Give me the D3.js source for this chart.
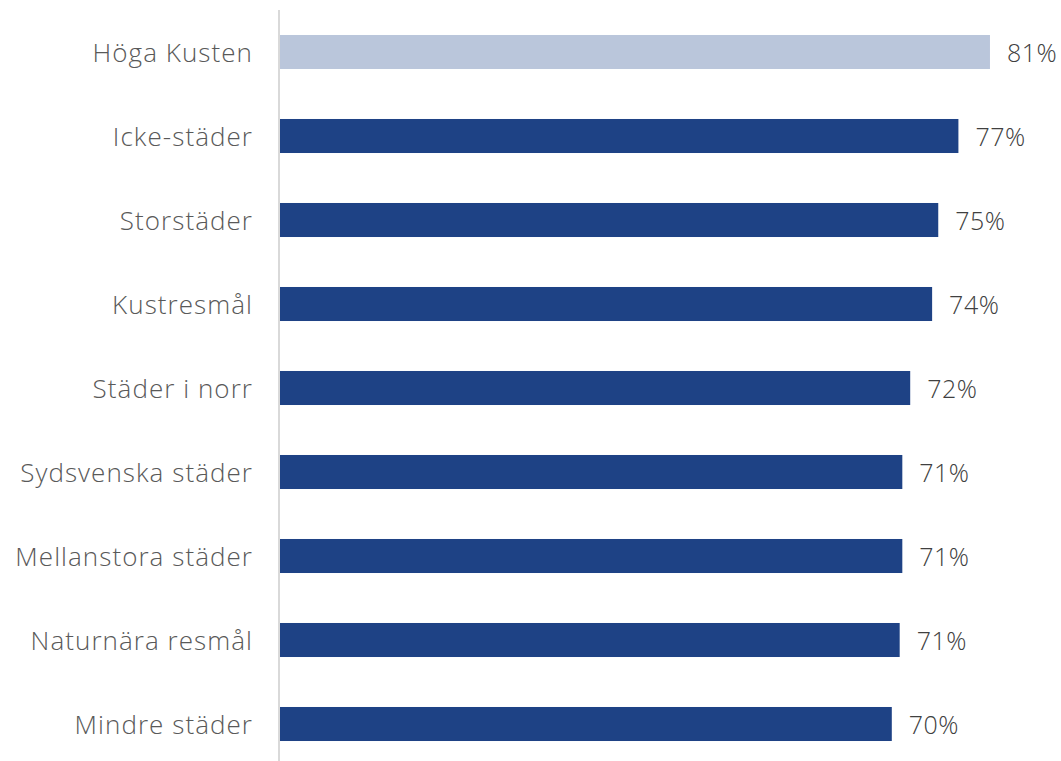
<!DOCTYPE html>
<html><head><meta charset="utf-8">
<script src="https://cdn.jsdelivr.net/npm/d3@7"></script>
<style>body{margin:0;background:#fff;} svg{display:block;}</style>
</head><body>
<script>
const categories = ["Höga Kusten","Icke-städer","Storstäder","Kustresmål","Städer i norr","Sydsvenska städer","Mellanstora städer","Naturnära resmål","Mindre städer"];
const values = [81.0, 77.4, 75.1, 74.4, 71.9, 71.0, 71.0, 70.7, 69.8];
const labels = ["81%","77%","75%","74%","72%","71%","71%","71%","70%"];
const highlight = ["Höga Kusten"];

const W = 1061, H = 761;
const svg = d3.select("body").append("svg").attr("width", W).attr("height", H);

const x = d3.scaleLinear().domain([0, 100]).range([280, 1156.5]);
const y = d3.scaleBand().domain(categories).range([10, 766]).paddingInner(0.595).paddingOuter(0.2975);

const font = "'Open Sans', sans-serif";

svg.append("g").selectAll("rect").data(categories).join("rect")
  .attr("x", x(0))
  .attr("y", d => y(d))
  .attr("height", y.bandwidth())
  .attr("width", (d, i) => x(values[i]) - x(0))
  .attr("fill", d => highlight.includes(d) ? "#BAC6DB" : "#1E4285");

svg.append("line").attr("x1", 279).attr("x2", 279).attr("y1", 10).attr("y2", H)
  .attr("stroke", "#D9D9D9").attr("stroke-width", 2);

svg.append("g").selectAll("text").data(categories).join("text")
  .attr("x", 253)
  .attr("y", d => y(d) + y.bandwidth() / 2 + 10)
  .attr("text-anchor", "end")
  .attr("font-family", font).attr("font-size", 26).attr("font-weight", 300).attr("letter-spacing", 1.05)
  .attr("fill", "#595959")
  .text(d => d);

svg.append("g").selectAll("text").data(categories).join("text")
  .attr("x", (d, i) => x(values[i]) + 17)
  .attr("y", d => y(d) + y.bandwidth() / 2 + 10)
  .attr("font-family", font).attr("font-size", 25).attr("font-weight", 300).attr("letter-spacing", 0.5)
  .attr("fill", "#404040")
  .text((d, i) => labels[i]);
</script>
</body></html>
